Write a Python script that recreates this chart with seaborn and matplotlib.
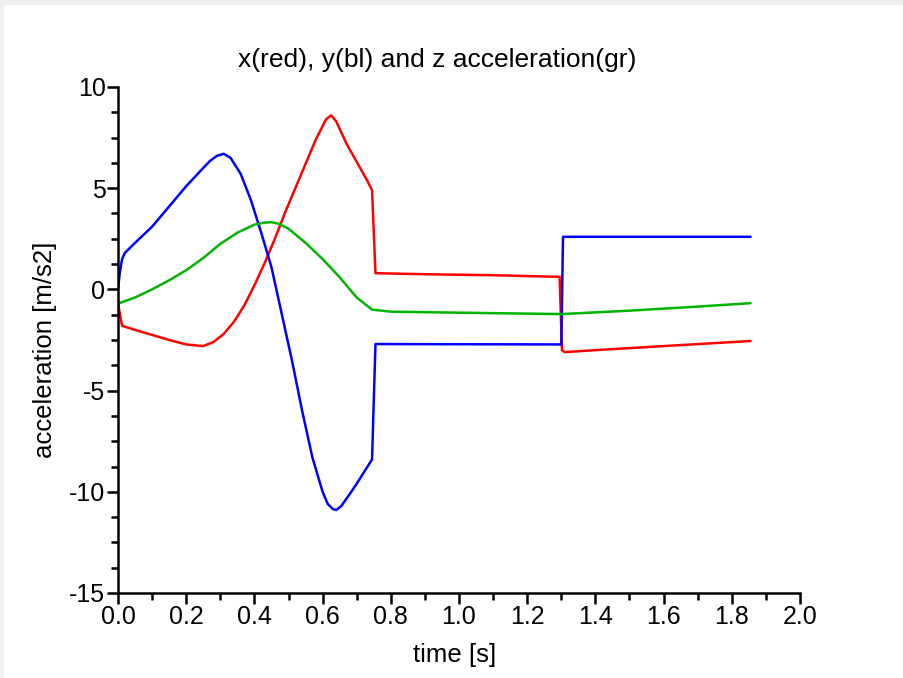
import numpy as np
import pandas as pd
import matplotlib
matplotlib.use("Agg")
import matplotlib.pyplot as plt
import seaborn as sns
from matplotlib.ticker import AutoMinorLocator
from matplotlib.patches import Rectangle

# ---- data ----
t_x = [0.0, 0.012, 0.05, 0.1, 0.15, 0.2, 0.25, 0.28, 0.31, 0.34, 0.37, 0.40, 0.43,
       0.46, 0.49, 0.52, 0.55, 0.58, 0.61, 0.625, 0.64, 0.67, 0.70, 0.73, 0.745,
       0.755, 0.9, 1.1, 1.295, 1.302, 1.31, 1.4, 1.6, 1.855]
acc_x = [-0.7, -1.8, -2.0, -2.25, -2.5, -2.72, -2.8, -2.6, -2.2, -1.6, -0.8, 0.2, 1.3,
         2.5, 3.8, 5.0, 6.2, 7.4, 8.4, 8.6, 8.3, 7.2, 6.3, 5.4, 4.9,
         0.8, 0.75, 0.7, 0.62, -3.0, -3.1, -3.0, -2.8, -2.55]

t_y = [0.0, 0.005, 0.012, 0.02, 0.05, 0.1, 0.15, 0.2, 0.25, 0.27, 0.29, 0.31, 0.33,
       0.36, 0.39, 0.42, 0.45, 0.48, 0.51, 0.54, 0.57, 0.60, 0.615, 0.63, 0.64,
       0.655, 0.68, 0.70, 0.745, 0.755, 1.30, 1.305, 1.855]
acc_y = [0.0, 0.8, 1.5, 1.8, 2.3, 3.1, 4.1, 5.1, 6.0, 6.35, 6.6, 6.7, 6.5,
         5.7, 4.4, 2.8, 1.1, -1.2, -3.5, -6.0, -8.3, -10.0, -10.6, -10.85, -10.9,
         -10.7, -10.1, -9.6, -8.4, -2.7, -2.72, 2.6, 2.6]

t_z = [0.0, 0.05, 0.1, 0.15, 0.2, 0.25, 0.3, 0.35, 0.4, 0.43, 0.45, 0.47, 0.5, 0.55,
       0.6, 0.65, 0.7, 0.745, 0.8, 1.0, 1.3, 1.5, 1.7, 1.855]
acc_z = [-0.7, -0.4, 0.0, 0.45, 0.95, 1.55, 2.25, 2.8, 3.2, 3.3, 3.32, 3.25, 3.0, 2.3,
         1.5, 0.6, -0.4, -1.0, -1.1, -1.15, -1.22, -1.05, -0.85, -0.68]

x_ticks = [0.0, 0.2, 0.4, 0.6, 0.8, 1.0, 1.2, 1.4, 1.6, 1.8, 2.0]
y_ticks = [-15, -10, -5, 0, 5, 10]

df = pd.concat([
    pd.DataFrame({"t": t_x, "a": acc_x, "s": "x"}),
    pd.DataFrame({"t": t_y, "a": acc_y, "s": "y"}),
    pd.DataFrame({"t": t_z, "a": acc_z, "s": "z"}),
], ignore_index=True)

sns.set_style("white")
plt.rcParams["font.family"] = ["Liberation Sans", "DejaVu Sans"]
plt.rcParams["text.color"] = "black"
plt.rcParams["xtick.color"] = "black"
plt.rcParams["ytick.color"] = "black"

fig = plt.figure(figsize=(9.04, 6.78), dpi=100)
fig.patch.set_facecolor("white")
fig.patches.append(Rectangle((0, 0), 3 / 904, 1, transform=fig.transFigure,
                             color="#f0f0f0", zorder=0))
fig.patches.append(Rectangle((0, 1 - 4 / 678), 1, 4 / 678, transform=fig.transFigure,
                             color="#f0f0f0", zorder=0))

ax = fig.add_axes([118 / 904, 1 - 593 / 678, (800 - 118) / 904, (593 - 87) / 678])
ax.set_facecolor("white")

palette = {"x": "#ff0000", "y": "#0000ff", "z": "#00b400"}
sns.lineplot(data=df, x="t", y="a", hue="s", units="s", estimator=None, sort=False,
             palette=palette, linewidth=1.8, legend=False, ax=ax)

ax.set_xlim(0, 2.0)
ax.set_ylim(-15, 10)
ax.set_xticks(x_ticks)
ax.set_xticklabels([f"{v:.1f}" for v in x_ticks])
ax.set_yticks(y_ticks)
ax.set_yticklabels([str(v) for v in y_ticks])
ax.xaxis.set_minor_locator(AutoMinorLocator(2))
ax.yaxis.set_minor_locator(AutoMinorLocator(4))

for side in ["top", "right"]:
    ax.spines[side].set_visible(False)
for side in ["left", "bottom"]:
    ax.spines[side].set_color("black")
    ax.spines[side].set_linewidth(1.8)

ax.tick_params(which="major", direction="out", length=8, width=1.8, color="black",
               labelsize=18, labelcolor="black", pad=1, left=True, bottom=True)
ax.tick_params(which="minor", direction="out", length=5, width=1.8, color="black",
               left=True, bottom=True)

ax.set_xlabel("")
ax.set_ylabel("")
fig.text(455 / 904, 1 - 655 / 678, "time [s]", ha="center", va="center",
         fontsize=18.5, color="black")
fig.text(45 / 904, 1 - 350 / 678, "acceleration [m/s2]", ha="center", va="center",
         rotation=90, fontsize=18.5, color="black")
fig.text(437 / 904, 1 - 60 / 678, "x(red), y(bl) and z acceleration(gr)",
         ha="center", va="center", fontsize=19, color="black")

fig.savefig("out.png", dpi=100)
